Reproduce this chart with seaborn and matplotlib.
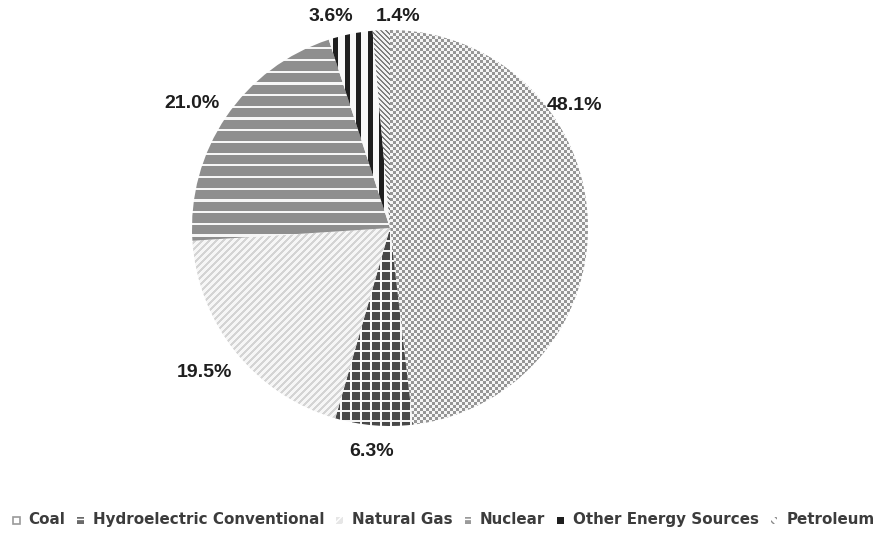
import numpy as np
import matplotlib
matplotlib.use("Agg")
import matplotlib.pyplot as plt
from matplotlib.patches import Rectangle
import seaborn as sns

# Electricity generation share by source
sources = ["Coal", "Hydroelectric Conventional", "Natural Gas", "Nuclear",
           "Other Energy Sources", "Petroleum"]
shares = [48.1, 6.3, 19.5, 21.0, 3.6, 1.4]

# where each percentage label sits, in pie-radius units from the centre
label_pos = [(0.934, 0.621), (-0.091, -1.131), (-0.939, -0.732),
             (-1.000, 0.631), (-0.298, 1.066), (0.040, 1.066)]

sns.set_theme(style="white")
plt.rcParams["font.family"] = ["Liberation Sans", "DejaVu Sans"]

W, H, DPI = 881, 533, 100
fig = plt.figure(figsize=(W / DPI, H / DPI), dpi=DPI)
fig.patch.set_facecolor("white")
ax = fig.add_axes([0, 0, 1, 1])
ax.patch.set_visible(False)

# pie centre (390, 228) px, radius 198 px
cx, cy, rad = 390, 228, 198
wedges, _ = ax.pie(shares, startangle=90, counterclock=False, radius=1,
                   center=(0, 0),
                   wedgeprops=dict(facecolor="none", linewidth=0))
ax.set_xlim(-cx / rad, (W - cx) / rad)
ax.set_ylim(-(H - cy) / rad, cy / rad)
ax.set_aspect("auto")
ax.axis("off")

# pixel-level fill textures for each slice
R, C = np.mgrid[0:H, 0:W]


def two_tone(mask, on, off):
    g = np.where(mask, on, off).astype(np.uint8)
    return np.dstack([g, g, g])


textures = [
    two_tone(((R // 3 + C // 3) % 2) == 0, 150, 246),                   # coal
    two_tone(((R % 10) < 2) | ((C % 10) < 2), 246, 72),                  # hydro
    two_tone(((C + R) % 7) < 3, 212, 246),                               # gas
    two_tone(((R / 11.7) % 1.0) < 0.18, 246, 142),                       # nuclear
    two_tone(((C - 333) % 11.5) < 5, 30, 248),                           # other
    two_tone(((C - R) % 5) < 2, 125, 242),                               # petroleum
]

for w, tex in zip(wedges, textures):
    im = fig.figimage(tex, xo=0, yo=0, origin="upper", zorder=1)
    im.set_clip_path(w)

for val, (lx, ly) in zip(shares, label_pos):
    ax.text(lx, ly, f"{val:.1f}%", ha="center", va="center",
            fontsize=14, fontweight="bold", color="#1e1e1e")

# legend row along the bottom: swatch + label, laid out left to right
swatches = [
    dict(facecolor="white", edgecolor="#9a9a9a", linewidth=1.2),
    dict(facecolor="#6a6a6a", edgecolor="white", hatch="---", linewidth=0),
    dict(facecolor="#e6e6e6", edgecolor="white", hatch="////", linewidth=0),
    dict(facecolor="#9a9a9a", edgecolor="white", hatch="---", linewidth=0),
    dict(facecolor="#1e1e1e", edgecolor="#1e1e1e", linewidth=0),
    dict(facecolor="white", edgecolor="#8a8a8a", hatch="\\\\\\\\", linewidth=0),
]
renderer = fig.canvas.get_renderer()
x = 13.0
base_y = 9.0
sw, gap_in, gap_out = 6.5, 9.0, 12.0
for style, name in zip(swatches, sources):
    fig.add_artist(Rectangle((x / W, (base_y + 0.5) / H), sw / W, sw / H,
                             transform=fig.transFigure, **style))
    t = fig.text((x + sw + gap_in) / W, base_y / H, name, ha="left",
                 va="baseline", color="#3c3c3c", fontsize=10.9,
                 fontweight="bold", family="DejaVu Sans")
    x += sw + gap_in + t.get_window_extent(renderer).width + gap_out

fig.savefig("out.png", dpi=DPI, facecolor="white")
